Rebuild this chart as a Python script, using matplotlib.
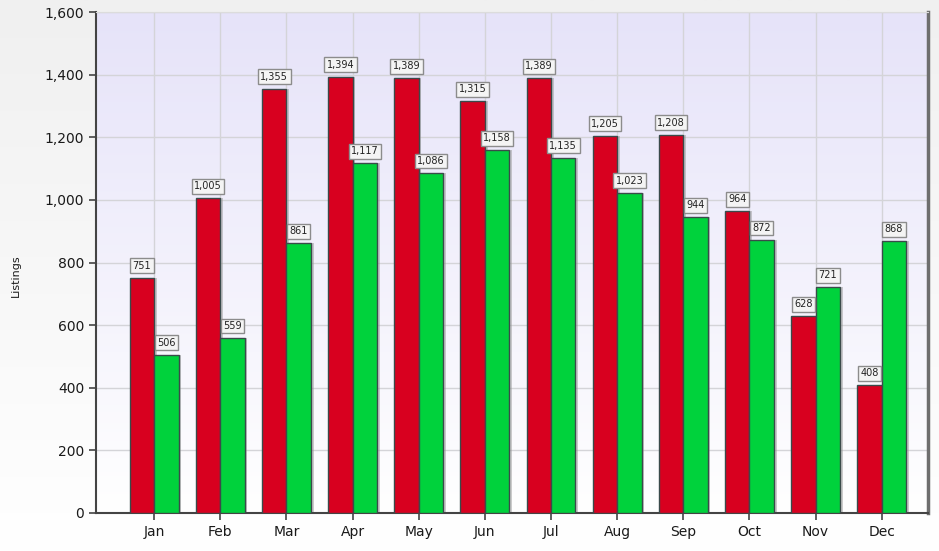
import numpy as np
import matplotlib.pyplot as plt
from matplotlib.colors import LinearSegmentedColormap

months = ['Jan', 'Feb', 'Mar', 'Apr', 'May', 'Jun', 'Jul', 'Aug', 'Sep', 'Oct', 'Nov', 'Dec']
red_vals = [751, 1005, 1355, 1394, 1389, 1315, 1389, 1205, 1208, 964, 628, 408]
green_vals = [506, 559, 861, 1117, 1086, 1158, 1135, 1023, 944, 872, 721, 868]

fig = plt.figure(figsize=(9.39, 5.51), dpi=100)

# figure background gradient
bg = fig.add_axes([0, 0, 1, 1], zorder=-10)
grad = np.linspace(0, 1, 256).reshape(-1, 1)
bg.imshow(grad, aspect='auto', extent=[0, 1, 0, 1], origin='lower',
          cmap=LinearSegmentedColormap.from_list('fbg', ['#ffffff', '#f0f0f0']))
bg.axis('off')

ax = fig.add_axes([96 / 939, 38 / 551, 832 / 939, 501 / 551])
ax.set_facecolor('none')
x = np.arange(len(months))
w = 0.37

ax.set_xlim(-0.88, 11.7)
ax.set_ylim(0, 1600)

# plot area gradient
ax.imshow(grad, aspect='auto', extent=[-0.88, 11.7, 0, 1600], origin='lower', zorder=0,
          cmap=LinearSegmentedColormap.from_list('abg', ['#ffffff', '#e6e3f9']))

ax.set_yticks(np.arange(0, 1601, 200))
ax.set_yticklabels([f'{v:,}' for v in range(0, 1601, 200)])
ax.set_xticks(x)
ax.set_xticklabels(months)
ax.grid(True, color='#d4d4d8', linewidth=1, zorder=1)
ax.set_axisbelow(True)

# bar shadows
ax.bar(x - w / 2 + 0.04, red_vals, w, color='#9a9a9a', alpha=0.5, zorder=2)
ax.bar(x + w / 2 + 0.04, green_vals, w, color='#9a9a9a', alpha=0.5, zorder=2)
ax.bar(x - w / 2, red_vals, w, color='#d8001f', edgecolor='#3a4a4a', linewidth=1, zorder=3)
ax.bar(x + w / 2, green_vals, w, color='#00d23c', edgecolor='#3a4a4a', linewidth=1, zorder=3)

box = dict(boxstyle='square,pad=0.25', facecolor='#f4f4f4', edgecolor='#8c8c8c', linewidth=1)
for xi, v in zip(x - w / 2, red_vals):
    ax.annotate(f'{v:,}', (xi, v), xytext=(0, 5), textcoords='offset points', ha='center', va='bottom',
                fontsize=7, color='#222222', bbox=box, zorder=5)
for xi, v in zip(x + w / 2, green_vals):
    ax.annotate(f'{v:,}', (xi, v), xytext=(0, 5), textcoords='offset points', ha='center', va='bottom',
                fontsize=7, color='#222222', bbox=box, zorder=5)

ax.spines['top'].set_color('#dcdcdc')
ax.spines['right'].set_color('#6e6e6e')
ax.spines['right'].set_linewidth(2.5)
for s in ['left', 'bottom']:
    ax.spines[s].set_color('#444444')
    ax.spines[s].set_linewidth(1.5)
ax.tick_params(axis='both', colors='#444444', labelcolor='#1a1a1a', labelsize=10, length=5, width=1.2)

fig.text(16 / 939, 0.5, 'Listings', rotation=90, ha='center', va='center', fontsize=8, color='#1a1a1a')

fig.savefig('out.png', dpi=100)
